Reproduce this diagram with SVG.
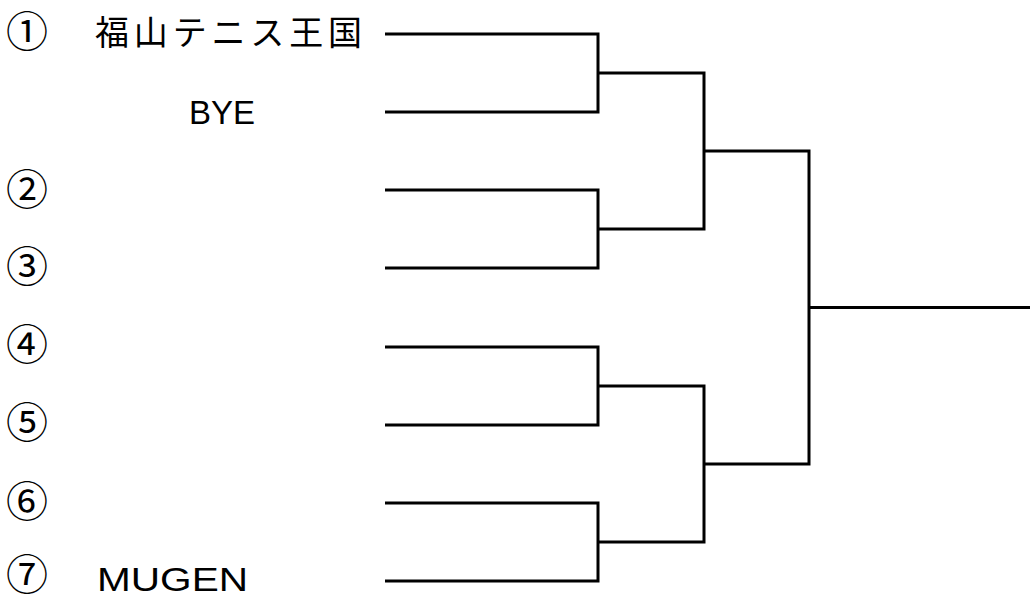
<svg xmlns="http://www.w3.org/2000/svg" width="1030" height="599" viewBox="0 0 1030 599">
<style>
.num{font-family:"Noto Sans CJK JP","Noto Sans CJK SC",sans-serif;font-size:42px;fill:#000}
.jp{font-family:"Noto Sans CJK JP","Noto Sans CJK SC",sans-serif;font-size:34px;fill:#000}
.en{font-family:"Liberation Sans",Arial,sans-serif;font-size:33px;fill:#000}
.ln{fill:none;stroke:#000;stroke-width:3;stroke-linecap:butt;stroke-linejoin:miter}
</style>
<rect width="1030" height="599" fill="#fff"/>
<g id="seed1"><text class="num" x="6" y="47">①</text><text class="jp" x="95" y="45" textLength="267" lengthAdjust="spacing">福山テニス王国</text></g>
<g id="bye"><text class="en" x="189" y="124">BYE</text></g>
<g id="seed2"><text class="num" x="6" y="205">②</text></g>
<g id="seed3"><text class="num" x="6" y="282">③</text></g>
<g id="seed4"><text class="num" x="6" y="360">④</text></g>
<g id="seed5"><text class="num" x="6" y="438">⑤</text></g>
<g id="seed6"><text class="num" x="6" y="517">⑥</text></g>
<g id="seed7"><text class="num" x="6" y="590">⑦</text><text class="en" x="97" y="591" textLength="151" lengthAdjust="spacingAndGlyphs">MUGEN</text></g>
<g id="connectors">
<path class="ln" d="M385 34H598V112H385"/>
<path class="ln" d="M385 190H598V268H385"/>
<path class="ln" d="M385 347H598V425H385"/>
<path class="ln" d="M385 503H598V581H385"/>
<path class="ln" d="M598 73H704V229H598"/>
<path class="ln" d="M598 386H704V542H598"/>
<path class="ln" d="M704 151H809V464H704"/>
<path class="ln" d="M809 307.5H1030"/>
</g>
</svg>
